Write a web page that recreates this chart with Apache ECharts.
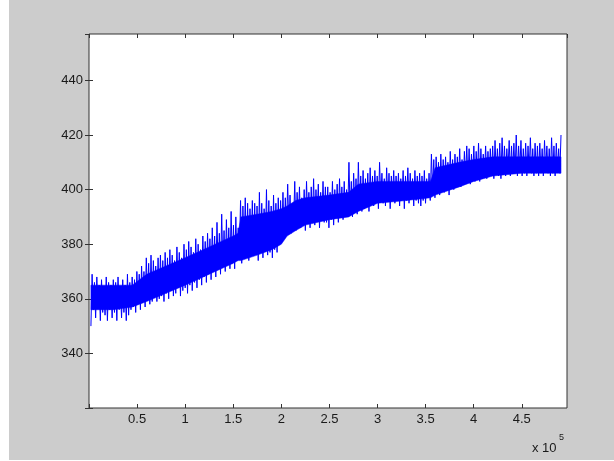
<!DOCTYPE html>
<html>
<head>
<meta charset="utf-8">
<script src="https://cdn.jsdelivr.net/npm/echarts@6/dist/echarts.min.js"></script>
<style>
html,body{margin:0;padding:0;background:#ffffff;}
#c{width:614px;height:461px;}
</style>
</head>
<body>
<div id="c"></div>
<script>
// Sampled signal: alternating low / high readings of the dense oscillation
const sampleStart = 2000;
const sampleStep = 1225;

const lowValues = [
  350,356,353,357,352,355,354,352,356,353,
  355,352,356,353,355,352,354,356,357,355,
  358,356,359,357,360,358,359,361,359,360,
  361,359,362,360,363,361,362,364,361,363,
  364,362,365,363,366,364,367,365,368,366,
  369,367,370,368,371,369,372,370,373,371,
  373,371,374,376,373,377,375,374,378,376,
  377,374,378,375,379,376,377,375,378,377,
  380,383,382,385,386,384,387,385,388,386,
  387,385,389,386,388,387,390,386,389,388,
  388,386,389,387,390,388,391,389,390,392,
  392,390,393,391,394,392,393,394,392,395,
  394,396,393,397,395,394,396,393,397,395,
  396,394,397,393,396,395,397,394,396,395,
  394,396,395,397,396,400,397,401,398,400,
  399,401,398,402,400,401,403,401,402,404,
  403,402,404,403,405,403,404,405,404,405,
  405,404,406,405,404,406,405,407,405,406,
  406,405,407,405,406,405,407,406,405,406,
  405,406,405,407,406,405,406,405,407,406
];
const highValues = [
  369,366,368,365,367,364,368,366,365,367,
  366,368,364,367,365,369,366,368,367,370,
  369,372,370,375,373,376,374,372,375,376,
  374,377,375,378,376,374,379,377,375,380,
  378,381,379,377,382,380,378,383,381,384,
  382,386,383,388,384,391,385,389,386,392,
  387,390,386,396,394,397,395,393,396,395,
  394,399,395,393,400,396,394,398,395,397,
  396,399,397,402,398,395,403,399,401,397,
  400,403,399,401,404,400,402,399,403,401,
  401,399,403,400,402,404,401,403,400,410,
  403,406,404,410,405,407,404,406,408,405,
  407,405,410,406,404,408,406,405,407,405,
  406,404,407,405,408,406,404,407,405,406,
  405,407,404,406,413,411,412,410,413,411,
  412,410,414,411,413,412,415,411,414,416,
  415,413,416,414,417,415,413,416,414,415,
  416,418,415,417,419,416,415,418,416,417,
  420,416,418,415,417,416,419,415,417,416,
  417,415,418,416,415,419,416,417,415,420
];

// Solid core of the band (where the oscillation is densest)
const coreX    = [2000,25000,45000,60000,80000,100000,125000,150000,155000,158000,175000,190000,200000,206000,215000,225000,250000,270000,280000,300000,330000,355000,360000,385000,400000,420000,450000,490775];
const coreLow  = [356, 356,  357,  359,  362,  365,   369,   373,   374,   374,   376,   378,   380,   383,   385,   387,   389,   390,   392,   395,   396,   397,   398,   401,   403,   405,   406,   406];
const coreHigh = [365, 365,  365,  369,  372,  375,   379,   383,   384,   390,   391,   392,   393,   394,   396,   397,   398,   399,   402,   403,   403,   403,   408,   410,   411,   412,   412,   412];

const xTickValues = [50000,100000,150000,200000,250000,300000,350000,400000,450000];
const yTickValues = [340,360,380,400,420,440];

const seriesData = [];
for (let i = 0; i < lowValues.length; i++) {
  seriesData.push([sampleStart + (2*i) * sampleStep, lowValues[i]]);
  seriesData.push([sampleStart + (2*i+1) * sampleStep, highValues[i]]);
}
const coreData = coreX.map((x, i) => [x, coreLow[i], coreHigh[i]]);

const chart = echarts.init(document.getElementById('c'), null, {renderer:'canvas'});
const labelFont = {fontFamily:'Liberation Sans, Arial, sans-serif', fontSize:13, color:'#1a1a1a'};
const xFmt = v => xTickValues.indexOf(v) >= 0 ? String(v/1e5) : '';
const yFmt = v => yTickValues.indexOf(v) >= 0 ? String(v) : '';
const tick = {show:true, inside:true, length:4, lineStyle:{color:'#333', width:1}};

function renderCore(params, api) {
  if (params.dataIndex !== 0) return null;
  const top = [], bottom = [];
  for (let i = 0; i < coreData.length; i++) {
    top.push(api.coord([coreData[i][0], coreData[i][2]]));
    bottom.push(api.coord([coreData[i][0], coreData[i][1]]));
  }
  const pts = top.concat(bottom.reverse());
  return {type:'polygon', shape:{points:pts}, style:{fill:'#0000ff', stroke:'#0000ff', lineWidth:0.5}};
}

chart.setOption({
  animation:false,
  backgroundColor:'#ffffff',
  graphic:[
    {type:'rect', left:9, top:0, shape:{width:605, height:460}, style:{fill:'#cccccc'}, z:-10, silent:true},
    {type:'text', left:532, top:442, style:{text:'x 10', font:'13px Liberation Sans, Arial, sans-serif', fill:'#1a1a1a'}, z:10},
    {type:'text', left:559, top:433, style:{text:'5', font:'9px Liberation Sans, Arial, sans-serif', fill:'#1a1a1a'}, z:10}
  ],
  grid:{left:89, top:34, width:478, height:374, show:true, backgroundColor:'#ffffff', borderColor:'#333', borderWidth:1, containLabel:false},
  xAxis:[
    {type:'value', min:0, max:497000, interval:50000, position:'bottom',
     axisLine:{show:false}, axisTick:tick, splitLine:{show:false},
     axisLabel:Object.assign({margin:5, formatter:xFmt, showMaxLabel:false}, labelFont)},
    {type:'value', min:0, max:497000, interval:50000, position:'top',
     axisLine:{show:false}, axisTick:tick, splitLine:{show:false}, axisLabel:{show:false}}
  ],
  yAxis:[
    {type:'value', min:320, max:457, interval:20, position:'left',
     axisLine:{show:false}, axisTick:tick, splitLine:{show:false},
     axisLabel:Object.assign({margin:6, formatter:yFmt, showMaxLabel:false}, labelFont)},
    {type:'value', min:320, max:457, interval:20, position:'right',
     axisLine:{show:false}, axisTick:tick, splitLine:{show:false}, axisLabel:{show:false}}
  ],
  series:[
    {type:'custom', xAxisIndex:0, yAxisIndex:0, data:coreData, renderItem:renderCore,
     encode:{x:0, y:[1,2]}, clip:true, z:1, silent:true},
    {type:'line', xAxisIndex:0, yAxisIndex:0, data:seriesData,
     showSymbol:false, symbol:'none', sampling:null,
     lineStyle:{color:'#0000ff', width:1}, z:2}
  ]
});
</script>
</body>
</html>
